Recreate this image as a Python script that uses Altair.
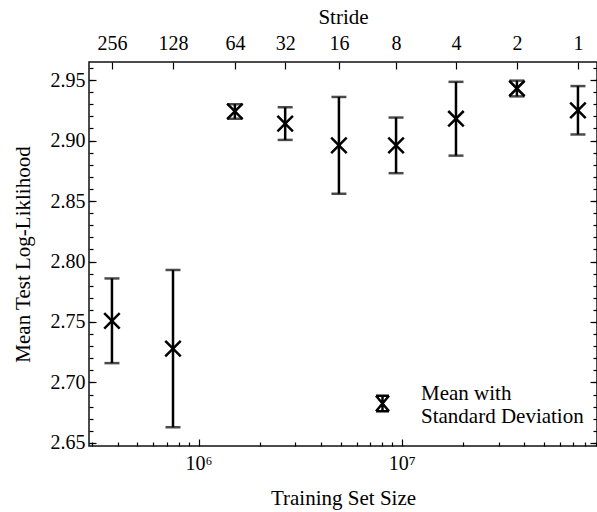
import altair as alt
import pandas as pd

# ---------------- data ----------------
strides = [256, 128, 64, 32, 16, 8, 4, 2, 1]
train_size = [3.75e5, 7.49e5, 1.51e6, 2.67e6, 4.91e6, 9.38e6, 1.85e7, 3.69e7, 7.37e7]
mean_ll = [2.751, 2.728, 2.924, 2.914, 2.896, 2.896, 2.918, 2.943, 2.925]
std_ll = [0.035, 0.065, 0.006, 0.0135, 0.040, 0.023, 0.0305, 0.0065, 0.020]

y_major = [2.65, 2.70, 2.75, 2.80, 2.85, 2.90, 2.95]
y_minor = [2.65, 2.66, 2.67, 2.68, 2.69, 2.70, 2.71, 2.72, 2.73, 2.74, 2.75,
           2.76, 2.77, 2.78, 2.79, 2.80, 2.81, 2.82, 2.83, 2.84, 2.85, 2.86,
           2.87, 2.88, 2.89, 2.90, 2.91, 2.92, 2.93, 2.94, 2.95, 2.96]
x_major = [1e6, 1e7]
x_major_labels = ["10\u2076", "10\u2077"]
x_minor = [3e5, 4e5, 5e5, 6e5, 7e5, 8e5, 9e5,
           2e6, 3e6, 4e6, 5e6, 6e6, 7e6, 8e6, 9e6,
           2e7, 3e7, 4e7, 5e7, 6e7, 7e7, 8e7, 9e7]
legend_name = "Mean with Standard Deviation"
legend_lines = ["Mean with", "Standard Deviation"]

x_title = "Training Set Size"
y_title = "Mean Test Log-Liklihood"
top_title = "Stride"

df = pd.DataFrame({
    "size": train_size,
    "stride": strides,
    "mean": mean_ll,
    "sd": std_ll,
})
df["lo"] = df["mean"] - df["sd"]
df["hi"] = df["mean"] + df["sd"]
df["series"] = legend_name

FONT = "'Liberation Serif', 'Times New Roman', Times, serif"
XPATH = "M-1,-1L1,1M-1,1L1,-1"
HOURGLASS = "M-1,-1.2L1,1.2M-1,1.2L1,-1.2M-1,-1.2L1,-1.2M-1,1.2L1,1.2M0,-1.2L0,1.2"

xs = alt.Scale(type="log", domain=[2.891e5, 9.145e7], nice=False)
ys = alt.Scale(domain=[2.6475, 2.9649], nice=False, zero=False)

# label expressions built from the arrays
bottom_expr = ""
for v, lab in zip(x_major, x_major_labels):
    bottom_expr += f"abs(datum.value / {v} - 1) < 0.01 ? '{lab}' : "
bottom_expr += "''"
top_expr = ""
for v, s in zip(train_size, strides):
    top_expr += f"abs(datum.value / {v} - 1) < 0.001 ? '{s}' : "
top_expr += "''"
legend_expr = "[" + ", ".join(f"'{s}'" for s in legend_lines) + "]"

MAJ = 7
MIN = 4
TICK_W = 1.2
TXT = dict(labelFont=FONT, titleFont=FONT, labelFontSize=20, titleFontSize=21,
           labelColor="black", titleColor="black", titleFontWeight="normal")

def tick_axis(orient, values, size):
    return alt.Axis(orient=orient, values=values, labels=False, ticks=True,
                    tickSize=size, offset=-size, domain=False, grid=False,
                    title=None, tickColor="black", tickWidth=TICK_W)

# layer 1: error bar stems + main labelled axes (bottom, left)
stems = alt.Chart(df).mark_rule(color="black", strokeWidth=2.5).encode(
    x=alt.X("size:Q", scale=xs, axis=alt.Axis(
        orient="bottom", values=x_major, labelExpr=bottom_expr, ticks=False,
        tickSize=0, domain=False, grid=False, labelPadding=7,
        title=x_title, titlePadding=14, **TXT)),
    y=alt.Y("lo:Q", scale=ys, axis=alt.Axis(
        orient="left", values=y_major, format=".2f", ticks=False, tickSize=0,
        domain=False, grid=False, labelPadding=4,
        title=y_title, titlePadding=17, **TXT)),
    y2="hi:Q",
)

# layer 2: caps + major inward ticks (bottom, left)
caps = alt.Chart(df).transform_fold(["lo", "hi"], as_=["bound", "yval"]).mark_tick(
    orient="horizontal", size=15, thickness=2.5, color="black"
).encode(
    x=alt.X("size:Q", scale=xs, axis=tick_axis("bottom", x_major, MAJ)),
    y=alt.Y("yval:Q", scale=ys, axis=tick_axis("left", y_major, MAJ)),
)

# layer 3: mean markers + minor inward ticks (bottom, left) + legend
points = alt.Chart(df).mark_point(
    shape=XPATH, size=240, strokeWidth=2.5, filled=False, opacity=1
).encode(
    x=alt.X("size:Q", scale=xs, axis=tick_axis("bottom", x_minor, MIN)),
    y=alt.Y("mean:Q", scale=ys, axis=tick_axis("left", y_minor, MIN)),
    color=alt.Color("series:N", scale=alt.Scale(range=["black"]), legend=alt.Legend(
        orient="none", legendX=283, legendY=331, title=None,
        symbolType=HOURGLASS, symbolSize=169, symbolStrokeWidth=2.5,
        symbolStrokeColor="black", symbolFillColor="transparent", symbolOpacity=1,
        labelExpr=legend_expr, labelFont=FONT, labelFontSize=21,
        labelBaseline="bottom",
        labelColor="black", labelOffset=28, labelLimit=400, padding=0)),
)

# layer 4: top stride axis (labels + title) + right major ticks
top_lab = alt.Chart(df).mark_point(opacity=0).encode(
    x=alt.X("size:Q", scale=xs, axis=alt.Axis(
        orient="top", values=train_size, labelExpr=top_expr, ticks=False,
        tickSize=0, domain=False, grid=False, labelPadding=9,
        title=top_title, titlePadding=6, **TXT)),
    y=alt.Y("mean:Q", scale=ys, axis=tick_axis("right", y_major, MAJ)),
)

# layer 5: top ticks + right minor ticks
top_ticks = alt.Chart(df).mark_point(opacity=0).encode(
    x=alt.X("size:Q", scale=xs, axis=tick_axis("top", train_size, MAJ)),
    y=alt.Y("mean:Q", scale=ys, axis=tick_axis("right", y_minor, MIN)),
)

chart = alt.layer(stems, caps, points, top_lab, top_ticks).resolve_axis(
    x="independent", y="independent"
).properties(
    width=508, height=384,
    padding={"left": 89, "top": 62, "right": 0, "bottom": 66},
    autosize=alt.AutoSizeParams(type="none"),
).configure(
    background="white", font=FONT,
).configure_view(
    stroke="#111", strokeWidth=1.5,
).configure_axis(
    labelFont=FONT, titleFont=FONT, labelFontSize=20, titleFontSize=21,
    labelColor="black", titleColor="black", titleFontWeight="normal",
).configure_legend(
    labelFont=FONT,
)

chart.save("out.html", embed_options={"renderer": "svg", "actions": False})
